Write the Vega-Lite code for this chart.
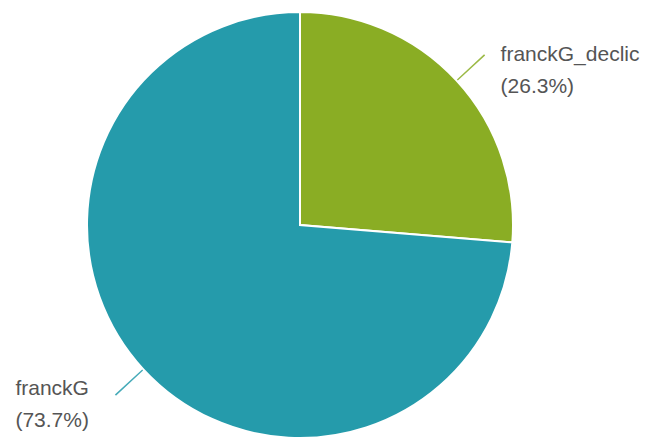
{
  "$schema": "https://vega.github.io/schema/vega-lite/v6.json",
  "width": 600,
  "height": 428,
  "padding": {"left": 0, "top": 11, "right": 51, "bottom": 0},
  "autosize": "none",
  "background": "white",
  "config": {"view": {"stroke": null}},
  "data": {
    "values": [
      {"name": "franckG_declic", "value": 26.3, "order": 1},
      {"name": "franckG", "value": 73.7, "order": 2}
    ]
  },
  "transform": [
    {"stack": "value", "groupby": [], "sort": [{"field": "order"}], "as": ["v0", "v1"]},
    {"calculate": "(datum.v0 + datum.v1) / 2", "as": "mid"},
    {"calculate": "datum.mid - 0.05", "as": "midA"},
    {"calculate": "datum.mid + 0.05", "as": "midB"},
    {"calculate": "datum.name + '\\n(' + format(datum.value, '.1f') + '%)'", "as": "label"}
  ],
  "encoding": {
    "color": {
      "field": "name",
      "type": "nominal",
      "scale": {"domain": ["franckG_declic", "franckG"], "range": ["#8aad24", "#259bab"]},
      "legend": null
    }
  },
  "layer": [
    {
      "mark": {"type": "arc", "outerRadius": 213, "stroke": "white", "strokeWidth": 2},
      "encoding": {
        "theta": {"field": "v0", "type": "quantitative", "stack": null, "scale": {"domain": [0, 100], "range": [0, 6.283185307179586]}},
        "theta2": {"field": "v1"}
      }
    },
    {
      "mark": {"type": "arc", "innerRadius": 214, "outerRadius": 251, "opacity": 0.85},
      "encoding": {
        "theta": {"field": "midA", "type": "quantitative", "stack": null},
        "theta2": {"field": "midB"}
      }
    },
    {
      "transform": [{"filter": "datum.name === 'franckG_declic'"}],
      "mark": {"type": "text", "radius": 251, "align": "left", "baseline": "alphabetic", "dx": 16, "dy": 6, "lineBreak": "\n", "lineHeight": 32, "font": "Liberation Sans", "fontSize": 21, "fill": "#555555"},
      "encoding": {
        "theta": {"field": "mid", "type": "quantitative", "stack": null},
        "text": {"field": "label"},
        "color": {"value": "#555555"}
      }
    },
    {
      "transform": [{"filter": "datum.name === 'franckG'"}],
      "mark": {"type": "text", "radius": 251, "align": "left", "baseline": "alphabetic", "dx": -100, "dy": 0, "lineBreak": "\n", "lineHeight": 32, "font": "Liberation Sans", "fontSize": 21, "fill": "#555555"},
      "encoding": {
        "theta": {"field": "mid", "type": "quantitative", "stack": null},
        "text": {"field": "label"},
        "color": {"value": "#555555"}
      }
    }
  ]
}
